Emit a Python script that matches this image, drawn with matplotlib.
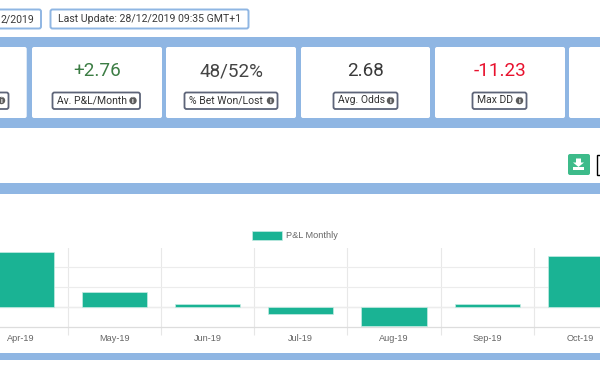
import matplotlib
matplotlib.use("Agg")
import matplotlib.pyplot as plt
from matplotlib.patches import FancyBboxPatch, Rectangle, Circle, Polygon

months = ["Apr-19", "May-19", "Jun-19", "Jul-19", "Aug-19", "Sep-19", "Oct-19"]
pnl = [13.8, 3.8, 0.7, -1.75, -4.7, 0.7, 12.8]
legend_name = "P&L Monthly"
card_values = ["+2.76", "48/52%", "2.68", "-11.23"]
card_labels = ["Av. P&L/Month", "% Bet Won/Lost", "Avg. Odds", "Max DD"]
card_colors = ["#3c7d44", "#444444", "#3a3a3a", "#e8112d"]
header_left = "2/2019"
header_right = "Last Update: 28/12/2019 09:35 GMT+1"

BLUE = "#8fb6e3"
TEAL = "#1ab394"
W, H = 600, 372
plt.rcParams["font.family"] = ["Roboto", "DejaVu Sans"]

fig = plt.figure(figsize=(W / 100, H / 100), dpi=100, facecolor="white")

# page furniture, drawn in pixel coords
bg = fig.add_axes([0, 0, 1, 1])
bg.set_xlim(0, W)
bg.set_ylim(H, 0)
bg.axis("off")


def rbox(x0, y0, x1, y1, face="white", edge="none", lw=0, r=2.0, z=2):
    p = FancyBboxPatch((x0 + r, y0 + r), x1 - x0 - 2 * r, y1 - y0 - 2 * r,
                       boxstyle="round,pad=%f,rounding_size=%f" % (r, r),
                       fc=face, ec=edge, lw=lw, zorder=z)
    bg.add_patch(p)


def info_icon(x, y):
    bg.add_patch(Circle((x, y), 3.7, fc="#5c5c5c", ec="none", zorder=4))
    bg.text(x, y + 0.2, "i", color="white", fontsize=5, fontweight="bold",
            ha="center", va="center", zorder=5)


for y0, y1 in [(37, 128), (183, 194), (353, 360)]:
    bg.add_patch(Rectangle((0, y0), W, y1 - y0, fc=BLUE, ec="none", zorder=1))

# top boxes
rbox(-20, 9.5, 41, 28.5, edge=BLUE, lw=1.4)
bg.text(34, 19.3, header_left, fontsize=7.6, color="#3a3a3a", ha="right", va="center")
rbox(50.5, 9.5, 248.5, 28.5, edge=BLUE, lw=1.4)
bg.text(149.5, 19.3, header_right, fontsize=7.6, color="#3a3a3a", ha="center", va="center")

# cards
rbox(-30, 47, 26.7, 118)
rbox(569, 47, 640, 118)
rbox(-30, 92.5, 8.5, 109, edge="#5d6478", lw=1.3, z=3)
info_icon(1.5, 100.5)

card_x = [(32, 162), (166, 296), (301, 430), (435, 565)]
label_x = [(52.5, 140), (184.5, 277.5), (333.5, 397.5), (472.5, 526.5)]
for i in range(len(card_values)):
    x0, x1 = card_x[i]
    rbox(x0, 47, x1, 118)
    bg.text((x0 + x1) / 2, 71.3, card_values[i], fontsize=13.6,
            color=card_colors[i], ha="center", va="center", zorder=4)
    a, b = label_x[i]
    rbox(a, 92.5, b, 109, edge="#5d6478", lw=1.3, z=3)
    bg.text(a + 4.3, 100.3, card_labels[i], fontsize=7.5, color="#333333",
            ha="left", va="center", zorder=4)
    info_icon(b - 7, 100.6)

# download button
rbox(568, 154, 590, 175, face="#3dbb8a", r=2)
bg.add_patch(Polygon([[576, 158.5], [581, 158.5], [581, 162.5], [584, 162.5],
                      [578.5, 167], [573, 162.5], [576, 162.5]], fc="white", ec="none", zorder=4))
bg.add_patch(Rectangle((573, 167), 11, 3.2, fc="white", ec="none", zorder=4))
bg.add_patch(Rectangle((596.5, 154.5), 10, 20, fc="white", ec="black", lw=1, zorder=3))

# chart
ax = fig.add_axes([0, (H - 326.8) / H, 1, (326.8 - 247.5) / H])
ax.patch.set_alpha(0)
x = list(range(len(months)))
ax.bar(x, pnl, width=0.7, color=TEAL, edgecolor="#c5ece3", linewidth=0.5, zorder=3)
ax.set_xlim((0 - 21.2) / 93.2, (600 - 21.2) / 93.2)
ax.set_ylim(-5, 15)
ax.set_xticks(x)
ax.set_xticklabels(months, fontsize=6.6, color="#666666", family="Liberation Sans")
ax.tick_params(axis="x", which="major", length=0, pad=5)
ax.set_xticks([i + 0.5 for i in x[:-1]], minor=True)
ax.tick_params(axis="x", which="minor", length=5.5, width=0.8, color="#e6e6e6")
ax.set_yticks([0, 5, 10])
ax.tick_params(axis="y", length=0, labelleft=False)
ax.grid(True, axis="x", which="minor", color="#e8e8e8", lw=0.8, zorder=0)
ax.grid(True, axis="y", color="#ececec", lw=0.8, zorder=0)
ax.axhline(0, color="#dddddd", lw=0.9, zorder=1)
for s in ["top", "left", "right"]:
    ax.spines[s].set_visible(False)
ax.spines["bottom"].set_color("#dddddd")
ax.spines["bottom"].set_linewidth(0.9)

# legend
bg.add_patch(Rectangle((252, 231), 30, 9, fc=TEAL, ec="#c5ece3", lw=0.5, zorder=3))
bg.text(286.5, 235, legend_name, fontsize=6.6, color="#666666", ha="left", va="center",
        family="Liberation Sans")

fig.savefig("out.png", dpi=100)
